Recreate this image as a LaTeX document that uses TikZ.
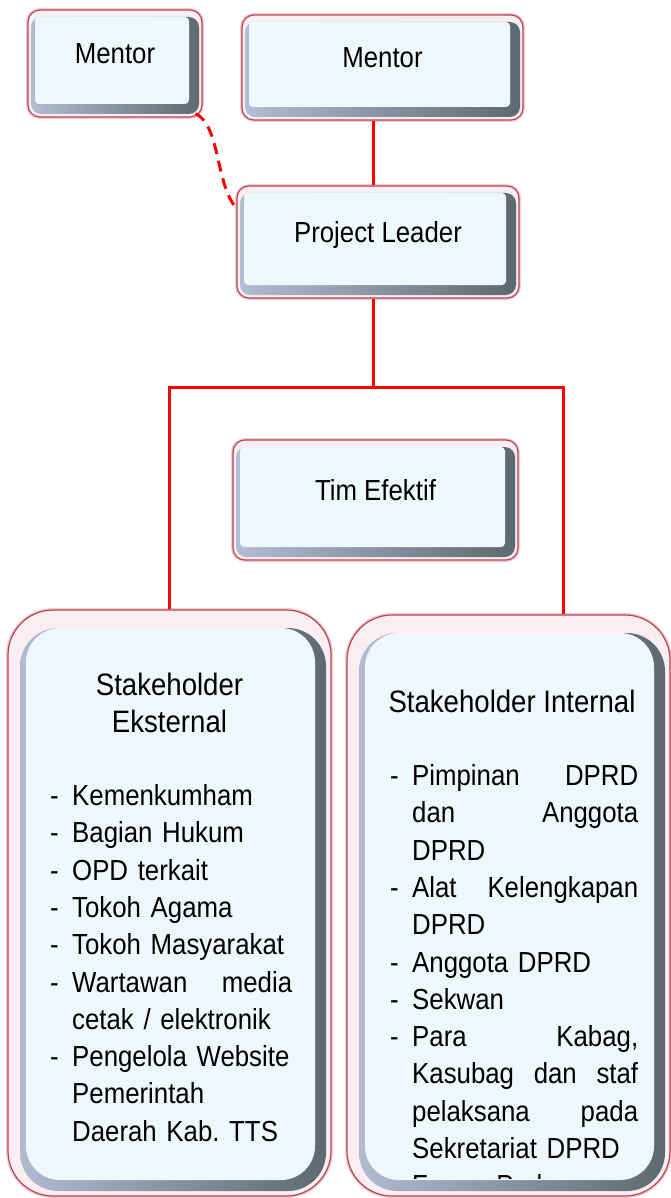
\documentclass[tikz,border=0pt]{standalone}
\usepackage{fontspec}
\setmainfont{Liberation Sans}[FakeStretch=0.89]

\definecolor{rimred}{HTML}{B5464F}
\definecolor{rimglow}{HTML}{F3C9D3}
\definecolor{rimpink}{HTML}{FAEEF3}
\definecolor{boxblue}{HTML}{EEF8FC}
\definecolor{bevellight}{HTML}{B4BED4}
\definecolor{beveldark}{HTML}{5C686E}

\newcommand{\dashitem}[1]{\par\noindent\hangindent=22pt\hangafter=1\makebox[22pt][l]{-}#1\par}

\begin{document}
\frenchspacing
\begin{tikzpicture}[x=1pt, y=-1pt]
% Box style
\tikzset{
    bevelbox/.style n args={6}{
        draw=rimred, line width=1.2pt, fill=rimpink, rounded corners=#1,
        preaction={draw=rimglow, line width=4pt},
        path picture={
            \shade[left color=bevellight, right color=beveldark, rounded corners=#1*0.85]
                ([shift={(#2,-#4)}]path picture bounding box.north west) rectangle
                ([shift={(-#3,#3)}]path picture bounding box.south east);
            \fill[boxblue, rounded corners=#6]
                ([shift={(#4,-#4)}]path picture bounding box.north west) rectangle
                ([shift={(-#5,#5)}]path picture bounding box.south east);
        }
    },
    smallbox/.style={bevelbox={12pt}{3pt}{3pt}{7pt}{13pt}{4pt}, inner sep=0pt,
        font=\fontsize{29}{34}\selectfont, text height=20pt, text depth=19pt},
    bigbox/.style={bevelbox={45pt}{12pt}{5pt}{18pt}{16pt}{34pt}},
    titletext/.style={font=\fontsize{31}{37}\selectfont, align=center, inner sep=0pt, anchor=north},
    listtext/.style={font=\fontsize{29}{37.3}\selectfont, align=left, inner sep=0pt, anchor=north west},
    link/.style={red, line width=3pt},
    dashlink/.style={red, line width=3pt, dash pattern=on 11pt off 7pt}
}
\useasboundingbox (0,0) rectangle (670,1198);

% Nodes
\node[smallbox, minimum width=174pt, minimum height=107pt] (mentorA) at (115,63.5) {Mentor};
\node[smallbox, minimum width=281pt, minimum height=105pt] (mentorB) at (382.5,67.5) {Mentor};
\node[smallbox, minimum width=282pt, minimum height=112pt] (leader) at (378,242) {Project Leader};
\node[smallbox, minimum width=285pt, minimum height=120pt] (tim) at (375.5,500) {Tim Efektif};
\node[bigbox, minimum width=323pt, minimum height=586pt] (ekst) at (169.5,903) {};
\node[bigbox, minimum width=323pt, minimum height=581pt] (intern) at (508.5,905.5) {};

% Texts of the stakeholder boxes
\node[titletext] (eksttitle) at (169.5,672.5) {Stakeholder\\Eksternal};
\node[listtext, text width=242pt] (ekstlist) at (50,768) {%
    \dashitem{Kemenkumham}
    \dashitem{Bagian Hukum}
    \dashitem{OPD terkait}
    \dashitem{Tokoh Agama}
    \dashitem{Tokoh Masyarakat}
    \dashitem{Wartawan\hfill media\newline cetak / elektronik}
    \dashitem{Pengelola Website\newline Pemerintah\newline Daerah Kab. TTS}};
\node[titletext] (interntitle) at (512,689.5) {Stakeholder Internal};
\begin{scope}
    \clip (355,625) rectangle (660,1178);
    \node[listtext, text width=248pt] (internlist) at (390,748) {%
        \dashitem{Pimpinan\hfill DPRD\newline dan\hfill Anggota\newline DPRD}
        \dashitem{Alat\hfill Kelengkapan\newline DPRD}
        \dashitem{Anggota DPRD}
        \dashitem{Sekwan}
        \dashitem{Para\hfill Kabag,\newline Kasubag\hfill dan\hfill staf\newline pelaksana\hfill pada\newline Sekretariat DPRD}
        \dashitem{Forum Parlemen}};
\end{scope}

% Connections
\coordinate (split) at (373,387);
\coordinate (rdrop) at (563,387);
\draw[link] (mentorB.south -| split) -- (leader.north -| split);
\draw[link] (leader.south -| split) -- (split);
\draw[link] (ekst.north) |- (rdrop) -- (rdrop |- intern.north);
\draw[dashlink] ([xshift=-7pt,yshift=4pt]mentorA.south east) .. controls +(25,12) and +(-21,-23) .. ([yshift=34pt]leader.west);
\end{tikzpicture}
\end{document}
